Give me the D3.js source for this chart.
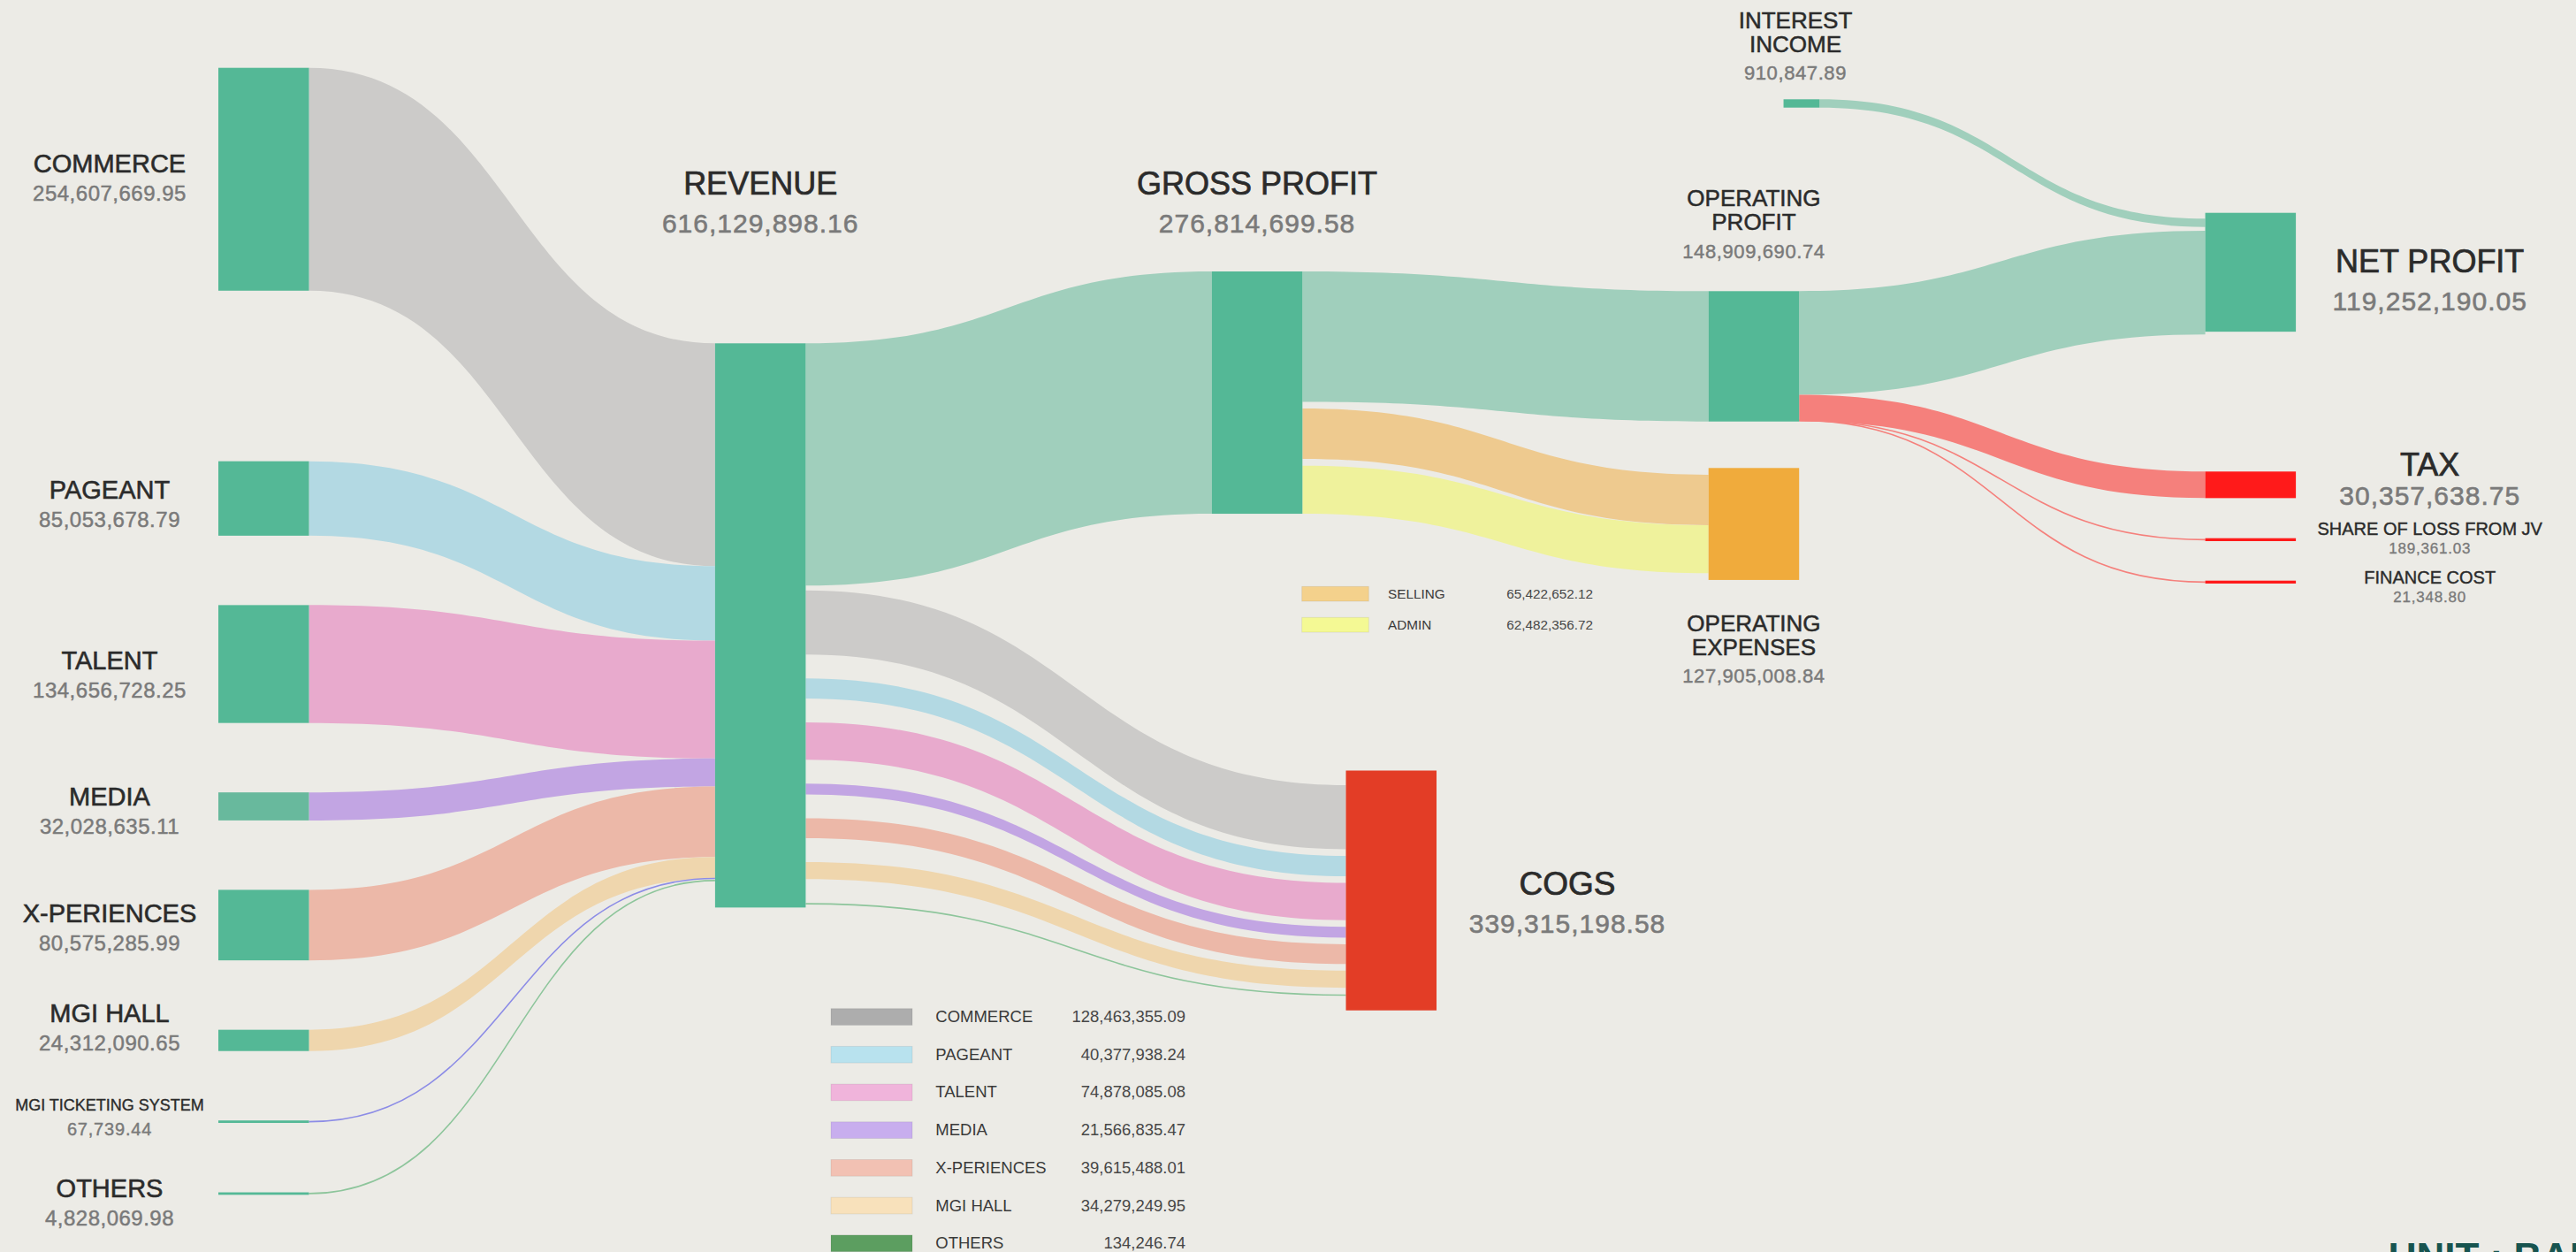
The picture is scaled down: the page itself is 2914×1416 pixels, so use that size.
<!DOCTYPE html>
<html>
<head>
<meta charset="utf-8">
<script src="https://cdn.jsdelivr.net/npm/d3@7"></script>
<style>
  html, body { margin: 0; background: #ecebe6; }
  svg { display: block; }
  text { font-family: "Liberation Sans", Arial, Helvetica, sans-serif; }
</style>
</head>
<body>
<svg id="chart" width="2914" height="1416"></svg>
<script>
// ---- data (THB) ----
var segments = ["COMMERCE", "PAGEANT", "TALENT", "MEDIA", "X-PERIENCES", "MGI HALL", "MGI TICKETING SYSTEM", "OTHERS"];
var segmentRevenue = [254607669.95, 85053678.79, 134656728.25, 32028635.11, 80575285.99, 24312090.65, 67739.44, 4828069.98];

var cogsItems = ["COMMERCE", "PAGEANT", "TALENT", "MEDIA", "X-PERIENCES", "MGI HALL", "OTHERS"];
var cogsValues = [128463355.09, 40377938.24, 74878085.08, 21566835.47, 39615488.01, 34279249.95, 134246.74];

var opexItems = ["SELLING", "ADMIN"];
var opexValues = [65422652.12, 62482356.72];

var pnlItems = ["REVENUE", "COGS", "GROSS PROFIT", "OPERATING EXPENSES", "OPERATING PROFIT",
  "INTEREST INCOME", "TAX", "SHARE OF LOSS FROM JV", "FINANCE COST", "NET PROFIT"];
var pnlValues = [616129898.16, 339315198.58, 276814699.58, 127905008.84, 148909690.74,
  910847.89, 30357638.75, 189361.03, 21348.80, 119252190.05];

// ---- colours ----
var segmentColors = {
  "COMMERCE": "#cccbc9", "PAGEANT": "#b3d9e3", "TALENT": "#e8aacd", "MEDIA": "#c2a5e3",
  "X-PERIENCES": "#ecb8a8", "MGI HALL": "#efd6ad", "MGI TICKETING SYSTEM": "#8c8ce6", "OTHERS": "#8dc59b"
};
var cogsLegendColors = ["#adadad", "#b8e2ee", "#f0b4db", "#c8aeee", "#f2c1b3", "#f8e1bb", "#5c9e60"];
var opexColors = ["#eeca8f", "#eff29c"];
var opexLegendColors = ["#f4d18c", "#f4f994"];
var green = "#54b896", greenLink = "#a0cfbc", red = "#ff1a1a", redLink = "#f5807c";
var nameColor = "#2b2b2b", valueColor = "#7a7a7a";

var W = 2914, H = 1416;
var fmt = d3.format(",.2f");
var pnl = {};
pnlItems.forEach(function (k, i) { pnl[k] = pnlValues[i]; });

// ---- scales ----
var x = d3.scaleLinear().domain([0, 4]).range([247, 2494.6]);     // node columns
var flow = d3.scaleLinear().domain([0, 1e6]).range([0, 0.99]);     // main flows
var cogsFlow = d3.scaleLinear().domain([0, 1e6]).range([0, 0.565]); // cost breakdown ribbons
var opexFlow = d3.scaleLinear().domain([0, 1e6]).range([0, 0.87]);
var nodeW = 102.5, thinH = 2.8, lineW = 1.6;
var isThin = function (v, total) { return v < total * 0.01; };

var svg = d3.select("#chart");
svg.append("rect").attr("width", W).attr("height", H).attr("fill", "#ecebe6");
var gLinks = svg.append("g"), gNodes = svg.append("g"), gText = svg.append("g");

var nodes = [], links = [];

function ribbon(d) {
  var p = d3.path(), xm = (d.x0 + d.x1) / 2;
  p.moveTo(d.x0, d.y0);
  p.bezierCurveTo(xm, d.y0, xm, d.y1, d.x1, d.y1);
  p.lineTo(d.x1, d.y1 + d.w);
  p.bezierCurveTo(xm, d.y1 + d.w, xm, d.y0 + d.w, d.x0, d.y0 + d.w);
  p.closePath();
  return p.toString();
}
var line = d3.linkHorizontal();

// ---- segment column (left) ----
var rev = {name: "REVENUE", x: x(1), y: 388.3, w: nodeW, color: green};
var sy = 76.7, ly = rev.y;
var segNodes = segments.map(function (s, i) {
  var v = segmentRevenue[i], thin = isThin(v, pnl.REVENUE);
  var n = {name: s, value: v, x: x(0), y: sy, w: nodeW, h: thin ? thinH : flow(v),
    color: s === "MEDIA" ? "#68b99d" : green, thin: thin};
  var fw = flow(v);
  if (thin) {
    links.push({line: true, x0: n.x + nodeW, y0: n.y + n.h / 2, x1: rev.x, y1: ly + fw / 2, color: segmentColors[s]});
  } else {
    links.push({x0: n.x + nodeW, y0: n.y, x1: rev.x, y1: ly, w: fw, color: segmentColors[s]});
  }
  ly += fw;
  sy += n.h + (i === 0 ? 192.9 : 78.5);
  nodes.push(n);
  return n;
});

// ---- revenue -> gross profit / cogs ----
var gp = {name: "GROSS PROFIT", x: x(2), y: 307, w: nodeW, h: flow(pnl["GROSS PROFIT"]), color: green};
var cogs = {name: "COGS", x: x(2.27), y: 871.5, w: nodeW, color: "#e33d26"};
var ry = rev.y;
links.push({x0: rev.x + nodeW, y0: ry, x1: gp.x, y1: gp.y, w: gp.h, color: greenLink});
ry += gp.h + 5.3;
var cy = cogs.y + 16.5;
cogsItems.forEach(function (s, i) {
  var v = cogsValues[i], thin = isThin(v, pnl.COGS);
  var w = thin ? lineW : cogsFlow(v);
  if (thin) {
    links.push({line: true, x0: rev.x + nodeW, y0: ry + w / 2, x1: cogs.x, y1: cy + w / 2, color: segmentColors[s]});
  } else {
    links.push({x0: rev.x + nodeW, y0: ry, x1: cogs.x, y1: cy, w: w, color: segmentColors[s]});
  }
  ry += w + 27;
  cy += w + 7.5;
});
rev.h = ry - 27 + 3.5 - rev.y;
cogs.h = cy - 7.5 + 16.5 - cogs.y;
nodes.push(rev, gp, cogs);

// ---- gross profit -> operating profit / expenses ----
var op = {name: "OPERATING PROFIT", x: x(3), y: 329.3, w: nodeW, h: flow(pnl["OPERATING PROFIT"]), color: green};
var opex = {name: "OPERATING EXPENSES", x: x(3), y: 529.3, w: nodeW, h: flow(pnl["OPERATING EXPENSES"]), color: "#f0ab3c"};
links.push({x0: gp.x + nodeW, y0: gp.y, x1: op.x, y1: op.y, w: op.h, color: greenLink});
var opexW = opexValues.map(function (v) { return opexFlow(v); });
var opexSum = d3.sum(opexW);
var gGap = (gp.h - op.h - opexSum) / 2;
var gy = gp.y + op.h + gGap, ey = opex.y + (opex.h - opexSum) / 2;
opexItems.forEach(function (s, i) {
  links.push({x0: gp.x + nodeW, y0: gy, x1: opex.x, y1: ey, w: opexW[i], color: opexColors[i]});
  gy += opexW[i] + gGap;
  ey += opexW[i];
});
nodes.push(op, opex);

// ---- to net profit / tax / others ----
var interest = {name: "INTEREST INCOME", x: x(3.151), y: 112.3, w: 40.7, h: 9.4, color: green};
var np = {name: "NET PROFIT", x: x(4), y: 240.7, w: nodeW, color: green};
var tax = {name: "TAX", x: x(4), y: 533.3, w: nodeW, h: flow(pnl.TAX), color: red};
var sol = {name: "SHARE OF LOSS FROM JV", x: x(4), y: 608.7, w: nodeW, h: 3.3, color: red};
var fin = {name: "FINANCE COST", x: x(4), y: 656.7, w: nodeW, h: 3.3, color: red};

var opToNp = pnl["OPERATING PROFIT"] - pnl.TAX - pnl["SHARE OF LOSS FROM JV"] - pnl["FINANCE COST"];
var ny = np.y + 6.6;
links.push({x0: interest.x + interest.w, y0: interest.y, x1: np.x, y1: ny, w: interest.h, color: greenLink});
ny += interest.h + 4.3;
var oy = op.y;
links.push({x0: op.x + nodeW, y0: oy, x1: np.x, y1: ny, w: flow(opToNp), color: greenLink});
np.h = ny + flow(opToNp) - np.y - 3;
oy += flow(opToNp);
links.push({x0: op.x + nodeW, y0: oy, x1: tax.x, y1: tax.y, w: tax.h, color: redLink});
oy += tax.h;
[sol, fin].forEach(function (n) {
  links.push({line: true, x0: op.x + nodeW, y0: Math.min(oy, op.y + op.h) - 1, x1: n.x, y1: n.y + n.h / 2, color: redLink});
});
nodes.push(interest, np, tax, sol, fin);

// ---- draw links + nodes ----
gLinks.selectAll("path.ribbon").data(links.filter(function (d) { return !d.line; }))
  .join("path").attr("class", "ribbon")
  .attr("d", ribbon).attr("fill", function (d) { return d.color; });
gLinks.selectAll("path.thin").data(links.filter(function (d) { return d.line; }))
  .join("path").attr("class", "thin")
  .attr("d", function (d) { return line({source: [d.x0, d.y0], target: [d.x1, d.y1]}); })
  .attr("fill", "none").attr("stroke", function (d) { return d.color; }).attr("stroke-width", lineW);

gNodes.selectAll("rect").data(nodes).join("rect")
  .attr("x", function (d) { return d.x; }).attr("y", function (d) { return d.y; })
  .attr("width", function (d) { return d.w; }).attr("height", function (d) { return d.h; })
  .attr("fill", function (d) { return d.color; });

// ---- labels ----
// a thin stroke in the fill colour gives the medium weight of the original lettering
function label(cx, lines, y0, lh, size, value, vy, vsize, vls) {
  lines.forEach(function (t, i) {
    gText.append("text").attr("x", cx).attr("y", y0 + i * lh).attr("text-anchor", "middle")
      .attr("font-size", size).attr("fill", nameColor)
      .attr("stroke", nameColor).attr("stroke-width", size * 0.02).text(t);
  });
  gText.append("text").attr("x", cx).attr("y", vy).attr("text-anchor", "middle")
    .attr("font-size", vsize).attr("letter-spacing", vls).attr("fill", valueColor)
    .attr("stroke", valueColor).attr("stroke-width", vsize * 0.02).text(fmt(value));
}

var segLabelDy = {"COMMERCE": -7.7, "PAGEANT": 0.5, "TALENT": 6.2, "MEDIA": -1, "X-PERIENCES": -3,
  "MGI HALL": -20.7, "MGI TICKETING SYSTEM": -12.8, "OTHERS": 3.8};
segNodes.forEach(function (n) {
  var small = n.name.length > 14;
  var yName = n.y + n.h / 2 + segLabelDy[n.name];
  label(124, [n.name], yName, 0, small ? 18 : 29, n.value, yName + (small ? 28 : 32), small ? 20 : 24, small ? 0.8 : 0.5);
});

var hx = function (n) { return n.x + n.w / 2; };
label(hx(rev), ["REVENUE"], 220, 0, 36, pnl.REVENUE, 263, 30, 1);
label(hx(gp), ["GROSS PROFIT"], 220, 0, 36, pnl["GROSS PROFIT"], 263, 30, 1);
label(hx(op), ["OPERATING", "PROFIT"], op.y - 96, 26.7, 26, pnl["OPERATING PROFIT"], op.y - 37.6, 22, 0.6);
label(hx(opex), ["OPERATING", "EXPENSES"], 714, 26.7, 26, pnl["OPERATING EXPENSES"], 771.7, 22, 0.6);
label(2031, ["INTEREST", "INCOME"], interest.y - 80, 27, 26, pnl["INTEREST INCOME"], interest.y - 22.3, 22, 0.6);

var rx = np.x + nodeW + 151.6;
label(rx, ["NET PROFIT"], 308.3, 0, 36, pnl["NET PROFIT"], 351, 30, 1);
label(rx, ["TAX"], 538.3, 0, 36, pnl.TAX, 570.7, 30, 1);
label(rx, ["SHARE OF LOSS FROM JV"], 605, 0, 20, pnl["SHARE OF LOSS FROM JV"], 626, 17, 0.8);
label(rx, ["FINANCE COST"], 660, 0, 20, pnl["FINANCE COST"], 681, 17, 0.8);
label(cogs.x + nodeW + 148, ["COGS"], 1012.2, 0, 37, pnl.COGS, 1055.4, 30, 1);

// ---- legends ----
function legend(x0, y0, rowH, sw, sh, items, values, colors, size, labelX, valueX, baseDy) {
  var g = svg.append("g").attr("transform", "translate(" + x0 + "," + y0 + ")");
  var row = g.selectAll("g").data(items).join("g")
    .attr("transform", function (d, i) { return "translate(0," + i * rowH + ")"; });
  row.append("rect").attr("width", sw).attr("height", sh)
    .attr("fill", function (d, i) { return colors[i]; })
    .attr("stroke", "rgba(0,0,0,0.07)").attr("stroke-width", 1);
  row.append("text").attr("x", labelX).attr("y", baseDy).attr("font-size", size)
    .attr("fill", "#3a3a3a").text(function (d) { return d; });
  row.append("text").attr("x", valueX).attr("y", baseDy).attr("font-size", size)
    .attr("text-anchor", "end").attr("fill", "#474747")
    .text(function (d, i) { return fmt(values[i]); });
}
legend(940, 1140.7, 42.7, 92, 18.7, cogsItems, cogsValues, cogsLegendColors, 18.5, 118.3, 401, 15.3);
legend(1472.7, 663.3, 35, 75.6, 16.7, opexItems, opexValues, opexLegendColors, 15.3, 97.3, 329.3, 13.4);

// unit note, cut by the bottom edge as in the original
svg.append("text").attr("x", 2701.7).attr("y", 1436.5).attr("font-size", 44).attr("font-weight", "bold")
  .attr("fill", "#17544f").text("UNIT : BAHT");
</script>
</body>
</html>
